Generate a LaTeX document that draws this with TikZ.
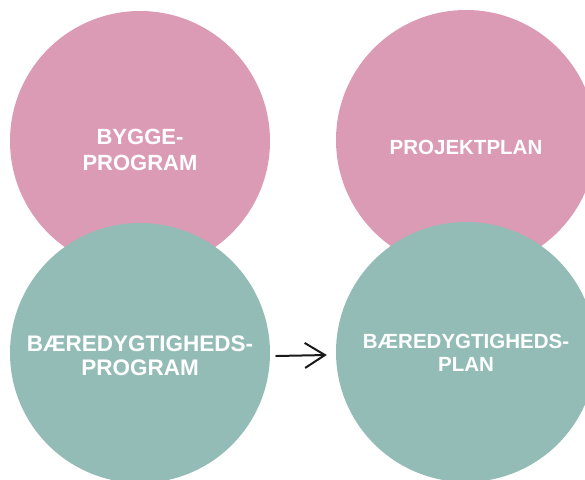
\documentclass[tikz,border=0pt]{standalone}
\usepackage{fontspec}
\setmainfont{Liberation Sans}
\usetikzlibrary{arrows.meta}
\definecolor{rosa}{RGB}{219,155,180}
\definecolor{groen}{RGB}{147,188,183}
\tikzset{
	cirkel/.style={circle, minimum size=260pt, inner sep=0pt},
	tekst/.style={text=white, font=\bfseries, align=center, inner sep=0pt},
	pil/.style={line width=2pt, -{Straight Barb[length=20pt,width=25pt,line width=2pt]}}
}
\begin{document}
\begin{tikzpicture}[x=1pt, y=-1pt, line cap=round, line join=round]
			\useasboundingbox (0,0) rectangle (585,479);
			\clip (0,0) rectangle (585,479);
			% programmer og planer
			\node[cirkel, fill=rosa] (byggeprogram) at (140,141) {};
			\node[cirkel, fill=rosa] (projektplan) at (466,140) {};
			\node[cirkel, fill=groen] (baerprogram) at (140,353) {};
			\node[cirkel, fill=groen] (baerplan) at (466,352) {};
			\node[tekst, font=\fontsize{22}{26}\selectfont\bfseries] (t1) at (140,150) {BYGGE-\\PROGRAM};
			\node[tekst, font=\fontsize{20.5}{24}\selectfont\bfseries] (t2) at (466,147) {PROJEKTPLAN};
			\node[tekst, font=\fontsize{22.5}{24}\selectfont\bfseries] (t3) at (140,356) {BÆREDYGTIGHEDS-\\PROGRAM};
			\node[tekst, font=\fontsize{20.5}{22.5}\selectfont\bfseries] (t4) at (466,353) {BÆREDYGTIGHEDS-\\PLAN};
			\draw[pil, black!90] ([yshift=-3pt]baerprogram.east) ++(6,0) -- ([xshift=-9pt,yshift=-3pt]baerplan.west);
		\end{tikzpicture}
\end{document}
